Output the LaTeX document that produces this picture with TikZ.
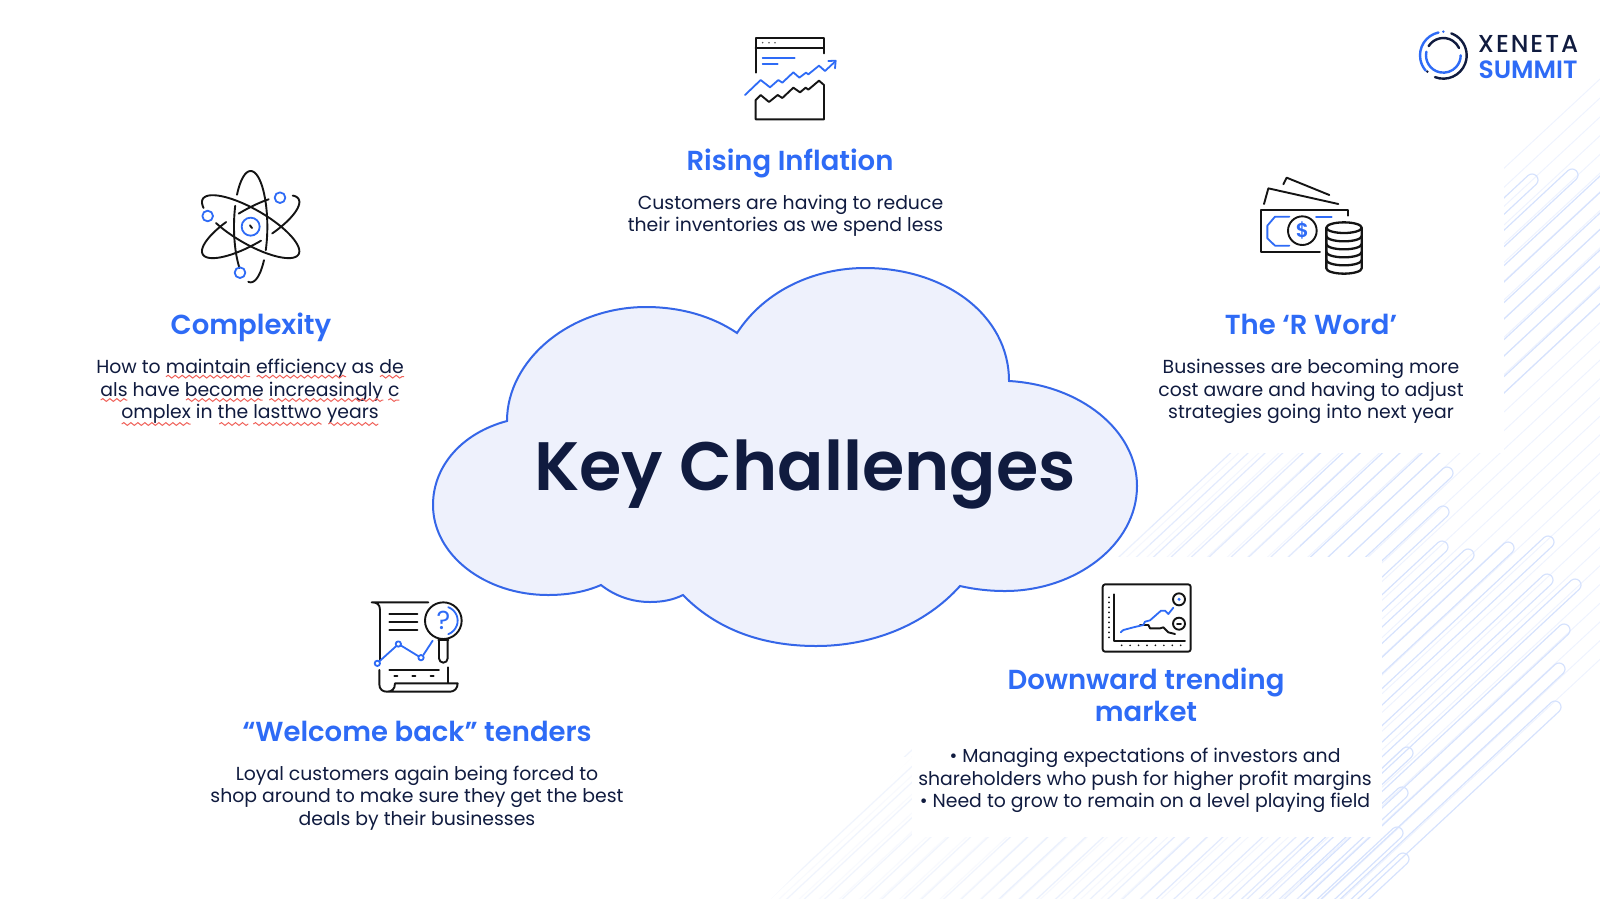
\documentclass[tikz,border=0pt]{standalone}
\usepackage{fontspec}
\usetikzlibrary{decorations.pathmorphing}
\setmainfont{Poppins}
\newfontfamily\poppinssemi{Poppins SemiBold}
\newfontfamily\logoname[LetterSpace=8]{Poppins Medium}
\definecolor{navy}{HTML}{101B3F}
\definecolor{brand}{HTML}{2E6BF6}
\definecolor{cloudfill}{HTML}{EEF1FC}
\definecolor{cloudline}{HTML}{3566E8}
\definecolor{hatchstrong}{HTML}{D6E2FD}
\definecolor{hatchfaint}{HTML}{EEF3FE}
\definecolor{inkline}{HTML}{141414}
\definecolor{squiggle}{HTML}{F0625A}
\begin{document}
\begin{tikzpicture}[
		x=1pt, y=-1pt,
		heading/.style = {inner sep=0pt, align=center, text=brand, font=\poppinssemi\fontsize{27.5}{31.5}\selectfont},
		bodytext/.style = {inner sep=0pt, align=center, text=navy, font=\fontsize{18.85}{22.45}\selectfont},
		ink/.style = {draw=inkline, line width=1.9pt, line cap=round, line join=round},
		blueink/.style = {draw=brand, line width=1.8pt, line cap=round, line join=round},
		pill/.style = {draw=hatchstrong, line width=1.2pt},
		faintline/.style = {draw=hatchfaint, line width=1pt},
		wavy/.style = {draw=squiggle, line width=1pt, decorate, decoration={snake, amplitude=1.4pt, segment length=7pt}},
		icon/.style = {scale=1/3}
	]
	\useasboundingbox (0,0) rectangle (1600,898);
	\begin{scope}
		\clip (0,0) rectangle (1600,898);
		\foreach \c in {1605,1623.7,...,2160}
			\draw[faintline] (600,\c-558) -- (1650,\c-1534.5);
		\foreach \c in {1567,1586}
			\draw[faintline] (1496,\c-1391.3) -- (1650,\c-1534.5);
		\foreach \tipx/\tipy in {1532/180,1572/175,1700/91,1700/128,1700/165,1700/202,1447/473,1443/512,1442/547,1468/555,1508/548,1548/542,1547/580,1575/585,1564/630,1559/669,1555/707,1407/753,1402/793,1397/833,1403/859}{
			\begin{scope}[shift={(\tipx,\tipy)}, rotate=43]
				\draw[pill] (-1500,6) -- (0,6) arc (90:-90:6) -- (-1500,-6);
			\end{scope}
		}
		\foreach \fadex in {1000,1150,1300}
			\fill[white, opacity=0.3] (0,453) rectangle (\fadex,910);
		\fill[white] (0,0) rectangle (1504,453);
		\fill[white] (912,557) rectangle (1382,837);
		\fill[white] (600,910) -- (760,910) -- (912,757) -- (600,757) -- cycle;
	\end{scope}

	\draw[draw=cloudline, fill=cloudfill, line width=2pt] (737,333)
		.. controls (765,290) and (815,268) .. (865,268)
		.. controls (945,268) and (1009,315) .. (1009,381)
		.. controls (1080,385) and (1137,430) .. (1137,486)
		.. controls (1137,545) and (1075,591) .. (1005,591)
		.. controls (988,591) and (973,589) .. (960,586)
		.. controls (925,625) and (872,646) .. (816,646)
		.. controls (760,646) and (715,628) .. (683,595)
		.. controls (673,600) and (662,602) .. (650,602)
		.. controls (632,602) and (615,596) .. (601,585)
		.. controls (585,592) and (567,595) .. (548,595)
		.. controls (485,595) and (433,555) .. (433,505)
		.. controls (433,466) and (462,433) .. (507,421)
		.. controls (507,360) and (570,307) .. (646,307)
		.. controls (680,307) and (712,316) .. (737,333) -- cycle;
	\node[inner sep=0pt, text=navy, font=\poppinssemi\fontsize{68.5}{76}\selectfont] (keytitle) at (805,474) {Key Challenges};

	\node[heading] (rising) at (790,163) {Rising Inflation};
	\node[bodytext, align=right, node distance=53pt, xshift=-4.5pt] (risingtext) [below of=rising] {Customers are having to reduce\\their inventories as we spend less};
	\node[heading] (complexity) at (251,327) {Complexity};
	\node[bodytext, node distance=64.5pt, xshift=-1pt] (complexitytext) [below of=complexity] {How to maintain efficiency as de\\als have become increasingly c\\omplex in the lasttwo years};
	\node[heading] (rword) at (1311,324) {The ‘R Word’};
	\node[bodytext, node distance=67.5pt] (rwordtext) [below of=rword] {Businesses are becoming more\\cost aware and having to adjust\\strategies going into next year};
	\node[heading] (welcome) at (417,731) {“Welcome back” tenders};
	\node[bodytext, node distance=67pt] (welcometext) [below of=welcome] {Loyal customers again being forced to\\shop around to make sure they get the best\\deals by their businesses};
	\node[heading] (downward) at (1146,695) {Downward trending\\market};
	\node[bodytext, node distance=85.5pt, xshift=-1pt] (downwardtext) [below of=downward] {• Managing expectations of investors and\\shareholders who push for higher profit margins\\• Need to grow to remain on a level playing field};

	\foreach \xa/\xb/\ya in {258/510/80,530/798/80,900/972/80,62/142/150,318/548/150,568/910/150,925/958/150,125/332/222,418/505/222,520/725/222,745/895/222}
		\draw[wavy] ({80+\xa/3},{350+\ya/3}) -- ({80+\xb/3},{350+\ya/3});

	\begin{scope}[shift={(720,20)}, icon]
		\draw[ink] (107,158) -- (107,55) -- (312,55) -- (312,100);
		\draw[ink] (107,83) -- (312,83);
		\foreach \dotx in {128,147,165}
			\fill[inkline!70] (\dotx,68) circle (2.6);
		\draw[blueink] (128,115) -- (224,115);
		\draw[blueink] (128,132) -- (173,132);
		\draw[blueink] (75,225) -- (122,180) -- (150,202) -- (175,180) -- (187,188) -- (220,157) -- (238,173) -- (258,158) -- (265,163) -- (297,137) -- (315,153) -- (345,125);
		\draw[blueink] (325,123) -- (347,122) -- (345,145);
		\draw[ink] (107,240) -- (122,225) -- (147,246) -- (173,225) -- (187,234) -- (220,203) -- (240,217) -- (257,203) -- (265,209) -- (297,182) -- (312,195) -- (312,298) -- (107,298) -- cycle;
	\end{scope}

	\begin{scope}[shift={(180,156)}, icon]
		\draw[ink, rotate around={-30:(212,212)}, domain=155:485, samples=60, smooth] plot ({212+166*cos(\x)},{212+52*sin(\x)});
		\draw[ink, rotate around={30:(212,212)}, domain=-20:74, samples=24, smooth] plot ({212+166*cos(\x)},{212+52*sin(\x)});
		\draw[ink, rotate around={30:(212,212)}, domain=-94:-58, samples=10, smooth] plot ({212+166*cos(\x)},{212+52*sin(\x)});
		\draw[ink, rotate around={30:(212,212)}, domain=-272:-110, samples=40, smooth] plot ({212+166*cos(\x)},{212+52*sin(\x)});
		\draw[ink, domain=-145:25, samples=40, smooth] plot ({212+50*cos(\x)},{212+167*sin(\x)});
		\draw[ink, domain=37:98, samples=16, smooth] plot ({212+50*cos(\x)},{212+167*sin(\x)});
		\draw[ink, domain=132:202, samples=16, smooth] plot ({212+50*cos(\x)},{212+167*sin(\x)});
		\draw[blueink] (300,125) circle (16);
		\draw[blueink] (83,180) circle (16);
		\draw[blueink] (180,350) circle (16);
		\draw[blueink] (212,212) circle (27);
		\draw[ink] (210,208) -- (216,216);
	\end{scope}

	\begin{scope}[shift={(1240,160)}, icon]
		\draw[ink] (130,73) -- (140,53) -- (268,105);
		\draw[ink] (72,132) -- (85,85) -- (295,132);
		\draw[ink] (325,167) -- (325,150) -- (62,150) -- (62,275) -- (240,275);
		\draw[blueink] (148,170) -- (105,170) -- (82,197) -- (82,235) -- (105,257) -- (148,257);
		\draw[blueink] (228,170) -- (275,170);
		\draw[ink] (187,212) circle (43);
		\node[inner sep=0pt, text=brand, font=\poppinssemi\fontsize{20}{20}\selectfont] (dollar) at (187,212) {\$};
		\fill[white] (259,203) rectangle (365,325);
		\draw[ink, line width=2.3pt] (259,203) -- (259,325) arc (180:0:53 and 16) -- (365,203);
		\draw[ink, line width=2.3pt] (312,203) ellipse (53 and 16);
		\foreach \bandy in {228,252,276,300}
			\draw[ink, line width=2.3pt] (259,\bandy) arc (180:0:53 and 16);
	\end{scope}

	\begin{scope}[shift={(360,590)}, icon]
		\draw[ink] (205,37) -- (35,37) .. controls (50,37) and (60,42) .. (60,60) -- (60,210);
		\draw[ink] (58,240) -- (58,283) .. controls (58,298) and (68,305) .. (80,305) .. controls (95,305) and (105,298) .. (105,280) -- (293,280) .. controls (293,295) and (283,305) .. (270,305) -- (80,305);
		\draw[ink] (263,232) -- (263,278);
		\foreach \liney in {73,97,120}
			\draw[ink] (88,\liney) -- (172,\liney);
		\draw[ink] (88,240) -- (237,240);
		\foreach \dashx in {103,157,212}
			\draw[ink] (\dashx,258) -- (\dashx+9,258);
		\draw[ink] (250,92) circle (55);
		\draw[ink] (237,150) -- (237,205) arc (180:0:13) -- (263,150);
		\draw[ink] (235,150) -- (265,150);
		\draw[blueink] (250,92) ++(-70:43) arc (-70:70:43);
		\node[inner sep=0pt, text=brand, font=\fontsize{26}{26}\selectfont] (question) at (250,92) {?};
		\draw[blueink] (52,220) circle (8);
		\draw[blueink] (115,162) circle (8);
		\draw[blueink] (183,203) circle (8);
		\draw[blueink] (58,214) -- (109,168);
		\draw[blueink] (122,166) -- (176,199);
		\draw[blueink] (190,195) -- (218,152);
	\end{scope}

	\begin{scope}[shift={(1090,575)}, icon]
		\draw[ink, rounded corners=2.5pt] (38,28) rectangle (302,230);
		\draw[ink] (72,58) -- (72,198) -- (285,198);
		\foreach \dotk in {0,...,8}
			\fill[inkline] (57,{67+15*\dotk}) circle (2.8);
		\foreach \dotk in {0,...,7}
			\fill[inkline] ({95+25.3*\dotk},211) circle (2.8);
		\draw[ink] (267,73) circle (18);
		\fill[brand] (267,73) circle (5);
		\draw[ink] (267,146) circle (18);
		\draw[ink] (261,146) -- (273,146);
		\draw[ink] (150,150) -- (175,150) -- (180,160) -- (210,160) -- (220,157) -- (235,172) -- (255,177);
		\draw[blueink] (92,172) -- (100,165) -- (130,157) -- (160,150) -- (165,140) -- (180,136) -- (213,107) -- (225,107) -- (235,117) -- (250,98);
	\end{scope}

	\begin{scope}[shift={(1380,10)}, icon]
		\draw[blueink, line width=2.4pt] (190,136) ++(258:70) arc (258:139:70);
		\draw[ink, draw=navy, line width=2.4pt] (190,136) ++(111:70) arc (111:-70:70);
		\fill[brand] (190,65) circle (4);
		\fill[navy] (142,185) circle (4);
		\draw[ink, draw=navy, line width=2.4pt] (190,136) ++(212:52) arc (212:335:52);
		\draw[blueink, line width=2.4pt] (190,136) ++(192:52) arc (192:0:52);
	\end{scope}
	\node[inner sep=0pt, text=navy, font=\logoname\fontsize{24.5}{26}\selectfont] (xeneta) at (1528,44) {XENETA};
	\node[inner sep=0pt, text=brand, font=\poppinssemi\fontsize{25}{26}\selectfont] (summit) at (1528,70) {SUMMIT};
\end{tikzpicture}
\end{document}
